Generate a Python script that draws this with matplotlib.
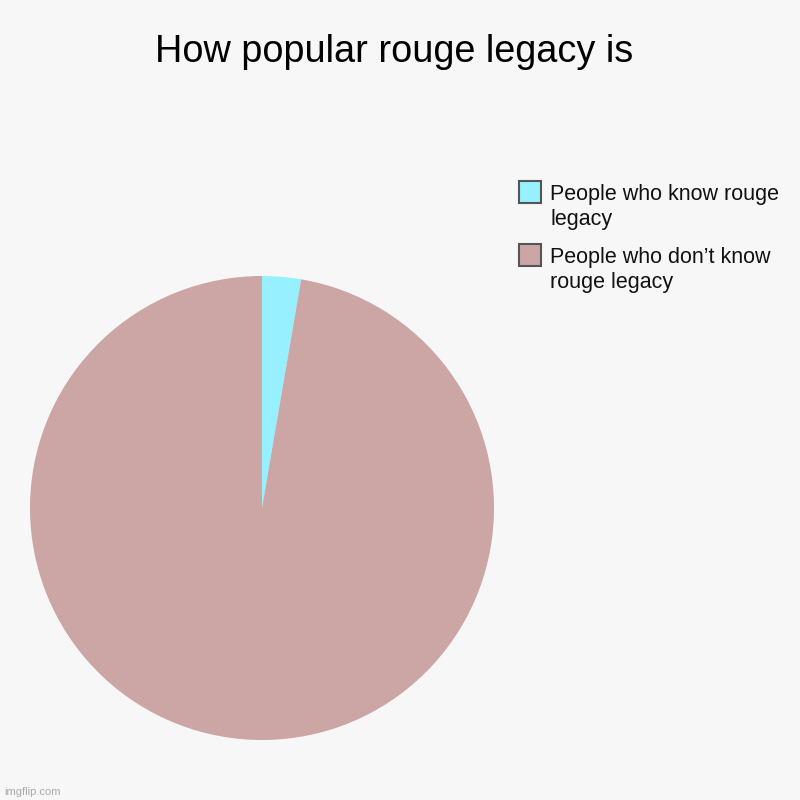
import matplotlib
matplotlib.use("Agg")
import matplotlib.pyplot as plt
from matplotlib.patches import Rectangle

plt.rcParams['font.family'] = ['Liberation Sans', 'DejaVu Sans']

labels = ["People who know rouge\nlegacy", "People who don\u2019t know\nrouge legacy"]
values = [2.7, 97.3]
colors = ["#96f0ff", "#cca5a5"]
title = "How popular rouge legacy is"

W = H = 800
fig = plt.figure(figsize=(8, 8), dpi=100, facecolor="#f7f7f7")

# pie axes
ax = fig.add_axes([30 / W, (H - 740) / H, 464 / W, 464 / H])
ax.set_facecolor("#f7f7f7")
ax.pie(values, colors=colors, startangle=90, counterclock=False,
       wedgeprops=dict(linewidth=0))
ax.set_xlim(-1, 1)
ax.set_ylim(-1, 1)
ax.set_aspect("equal")
ax.axis("off")

fig.text(394 / W, 1 - 62 / H, title, ha="center", va="baseline", fontsize=27.3, color="black")

# legend
sw_tops = [181, 244]
last_baselines = [225, 288]
for lab, col, top, bl in zip(labels, colors, sw_tops, last_baselines):
    fig.patches.append(Rectangle((519 / W, 1 - (top + 22) / H), 22 / W, 22 / H,
                                 transform=fig.transFigure, facecolor=col,
                                 edgecolor="#555555", linewidth=1.5))
    fig.text(550 / W, 1 - bl / H, lab, ha="left", va="baseline", fontsize=15.5,
             color="#111111", linespacing=1.26)

fig.text(4 / W, 1 - 795 / H, "imgflip.com", ha="left", va="baseline", fontsize=8, color="#aaaaaa")

fig.savefig("out.png", dpi=100, facecolor=fig.get_facecolor())
